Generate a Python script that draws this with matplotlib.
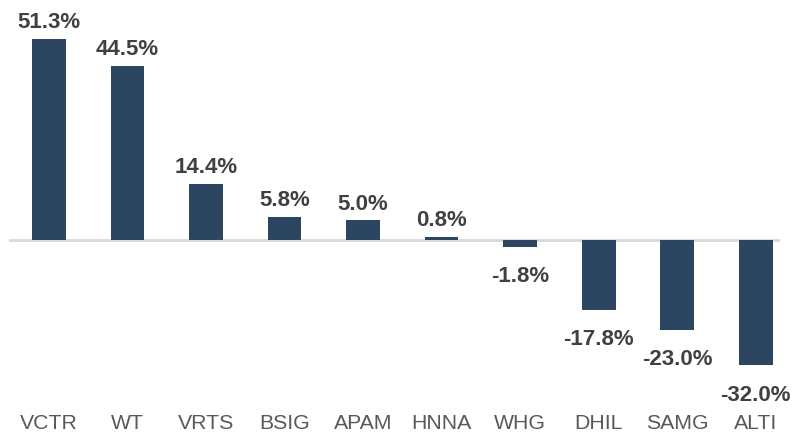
import matplotlib
matplotlib.use("Agg")
import matplotlib.pyplot as plt

tickers = ["VCTR", "WT", "VRTS", "BSIG", "APAM", "HNNA", "WHG", "DHIL", "SAMG", "ALTI"]
returns = [51.3, 44.5, 14.4, 5.8, 5.0, 0.8, -1.8, -17.8, -23.0, -32.0]

plt.rcParams["font.family"] = ["Liberation Sans", "DejaVu Sans"]

fig = plt.figure(figsize=(7.92, 4.35), dpi=100)
ax = fig.add_axes([9 / 792, 25 / 435, 771 / 792, 410 / 435])

x = range(len(tickers))
bars = ax.bar(x, returns, width=0.43, color="#2C4560", zorder=2)
ax.axhline(0, color="#D9D9D9", linewidth=2, zorder=1)

for xi, v in zip(x, returns):
    off = 5 if v >= 0 else -13
    ax.annotate(f"{v:.1f}%", (xi, v), xytext=(0, off), textcoords="offset points",
                ha="center", va="bottom" if v >= 0 else "top",
                fontsize=16, fontweight="bold", color="#404040")

ax.set_xlim(-0.51, 9.31)
ax.set_ylim(-43.1, 61.5)
ax.set_xticks(list(x))
ax.set_xticklabels(tickers, fontsize=15.3, color="#595959")
ax.tick_params(axis="x", length=0, pad=3)
ax.set_yticks([])
for s in ax.spines.values():
    s.set_visible(False)

fig.savefig("out.png", dpi=100)
